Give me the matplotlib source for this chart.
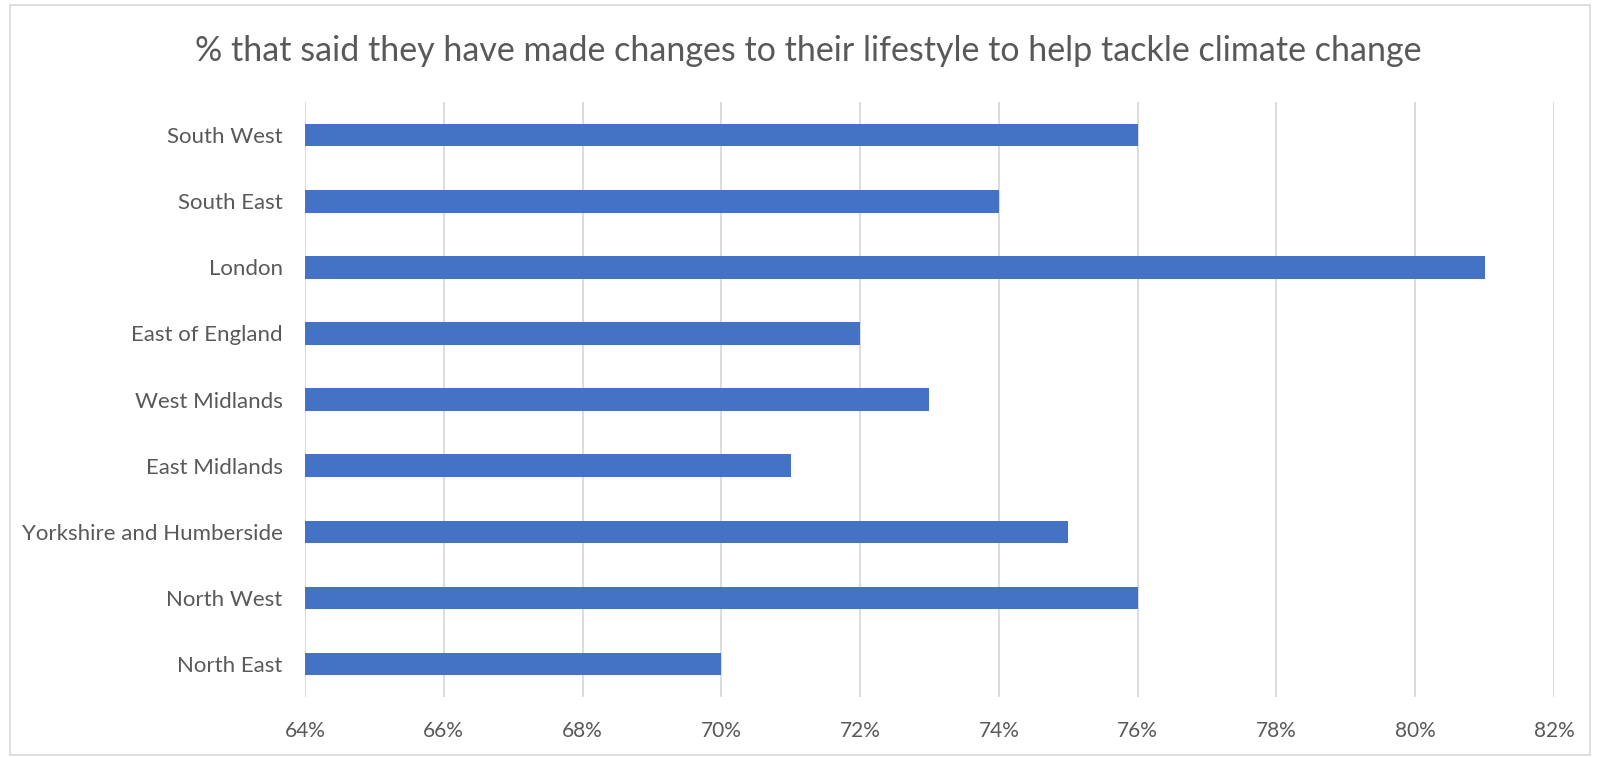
import matplotlib
matplotlib.use("Agg")
import matplotlib.pyplot as plt
from matplotlib.patches import Rectangle
from matplotlib.ticker import FuncFormatter

regions = ["North East", "North West", "Yorkshire and Humberside", "East Midlands",
           "West Midlands", "East of England", "London", "South East", "South West"]
values = [70, 76, 75, 71, 73, 72, 81, 74, 76]
x_ticks = [64, 66, 68, 70, 72, 74, 76, 78, 80, 82]
title = "% that said they have made changes to their lifestyle to help tackle climate change"

plt.rcParams['font.family'] = ['Lato', 'DejaVu Sans']
grey = "#595959"

fig = plt.figure(figsize=(16, 7.57), dpi=100)
ax = fig.add_axes([0.1906, 0.0793, 0.7806, 0.7857])

ax.barh(range(len(regions)), [v - 64 for v in values], left=64, height=0.34,
        color="#4472C4", zorder=3)

ax.set_xlim(64, 82)
ax.set_ylim(-0.5, len(regions) - 0.5)
ax.set_xticks(x_ticks)
ax.xaxis.set_major_formatter(FuncFormatter(lambda v, p: f"{v:.0f}%"))
ax.set_yticks(range(len(regions)))
ax.set_yticklabels(regions)
ax.tick_params(axis="both", length=0, colors=grey)
ax.tick_params(axis="x", pad=17, labelsize=15)
ax.tick_params(axis="y", pad=16, labelsize=16)
ax.grid(axis="x", color="#D9D9D9", linewidth=1.3, zorder=0)
for s in ax.spines.values():
    s.set_visible(False)

fig.text(0.505, 0.932, title, ha="center", va="center", fontsize=24.5, color=grey)

fig.patches.append(Rectangle((0.006, 0.003), 0.988, 0.991, transform=fig.transFigure,
                             fill=False, edgecolor="#D9D9D9", linewidth=1.2))

fig.savefig("out.png", dpi=100)
